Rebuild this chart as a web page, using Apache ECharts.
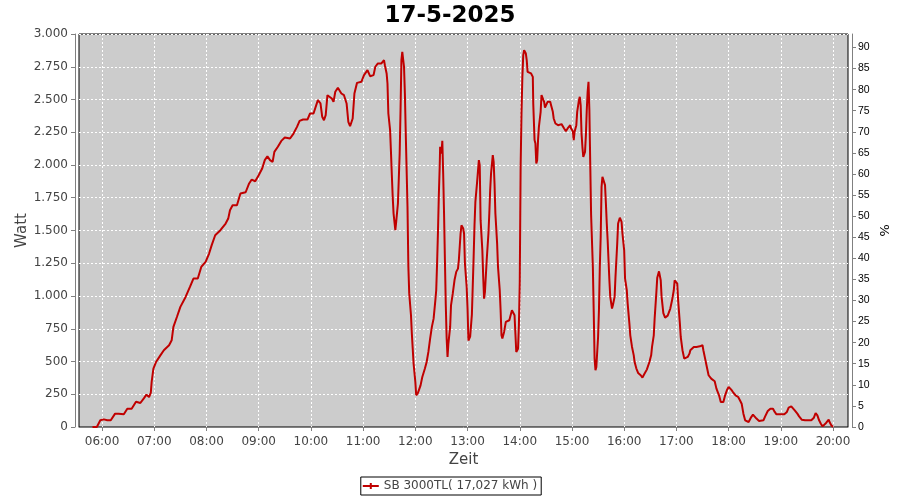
<!DOCTYPE html>
<html>
<head>
<meta charset="utf-8">
<script src="https://cdn.jsdelivr.net/npm/echarts@6/dist/echarts.min.js"></script>
<style>html,body{margin:0;padding:0;background:#fff}#c{width:900px;height:500px}</style>
</head>
<body>
<div id="c"></div>
<script>
// time in minutes since midnight
const times = [349,354,358,362,366,370,375,379,385,389,394,399,404,408,411,414,416,417,419,422,427,431,437,440,442,446,450,456,461,465,470,474,479,483,486,490,496,502,505,507,510,515,519,525,529,532,536,540,544,547,550,553,556,558,562,
566,570,576,580,584,587,591,596,599,603,605,608,611,613,615,617,619,621,624,626,628,631,635,638,641,643,645,648,650,653,658,661,665,668,672,674,677,681,684,685,687,688,689,691,692,693,694,695,697,698,700,701,702,703,704,705,706,707,708,709,711,712,713,715,716,717,718,720,721,723,726,728,731,733,735,737,739,741,743,744,745,746,747,748,748.5,750,751,752,753,754,755,756,757,758,760,761,763,765,767,769,770,771,772,773,775,776,777,779,780,781,783,785,787,788,789,
791,793,794,795,797,798,799,800,802,804,805,806,807,809,810,811,812,814,815,817,818,819,820,822,824,826,828,830,831,833,834,835,836,838,839,840,841,842,843,844,845,847,848,849,851,853,855,855.5,857,858,859,860,861,862,864,865,866,868,869,871,872,875,876,878,879,881,884,886,888,891,893,895,898,899,901,902,903,905,906,908,909,910,911,912,913,915,916,917,918,919,920,921,922,924,925,926,927,928,930,931,932,933,934,935,937,938,939,940,941,943,944,946,947,949,950,951,952,953,955,957,958,960,961,963,964,966,967,969,971,972,974,976,979,981,983,986,989,991,992,994,995,
997,998,1000,1002,1003,1005,1007,1010,1013,1015,1017,1018,1020,1021,1022,1024,1025,1027,1029,1031,1033,1035,1036,1040,1043,1047,1050,1051,1053,1055,1057,1060,1064,1066,1069,1071,1074,1076,1078,1080,1083,1085,1088,1091,1093,1095,1097,1099,1101,1103,1106,1108,1110,1112,1115,1117,1120,1122,1125,1128,1131,1133,1135,1138,1141,1144,1147,1149,1152,1154,1156,1159,1161,1164,1168,1172,1175,1178,1180,1182,1184,1186,1188,1190,1192,1195,1196,1198,1200];
const watt = [0,0,51,58,51,51,102,102,97,140,140,193,183,219,247,229,260,344,446,496,547,586,624,662,764,840,917,993,1069,1133,1133,1222,1260,1324,1388,1464,1502,1553,1591,1655,1693,1693,1782,1792,1859,1889,1876,1922,1973,2037,2067,2037,2024,2100,2139,
2184,2210,2202,2240,2291,2337,2347,2347,2393,2393,2406,2495,2470,2368,2342,2381,2533,2546,2508,2482,2559,2589,2546,2533,2470,2330,2296,2355,2546,2627,2635,2686,2724,2678,2686,2750,2775,2775,2801,2762,2699,2622,2393,2266,2100,1922,1757,1629,1502,1566,1706,1897,2088,2419,2801,2864,2851,2750,2546,2240,1680,1222,1018,853,713,598,484,344,242,260,318,382,446,496,573,675,764,827,967,1044,1248,1489,1769,1986,2139,2088,2184,1935,1629,1273,929,675,535,637,764,929,1018,1120,1184,1209,1273,1375,1477,1540,1515,1477,1248,1069,904,660,690,860,1300,1540,1719,
1871,2037,1999,1579,1349,1146,980,1031,1273,1477,1629,1808,1935,2075,2024,1859,1629,1400,1222,1044,891,700,675,726,802,789,815,827,891,904,853,713,573,598,777,1107,1986,2393,2673,2839,2877,2851,2801,2711,2711,2699,2673,2470,2190,2164,2011,2037,2190,2291,2406,2533,2526,2482,2439,2444,2482,2482,2457,2406,2355,2317,2304,2304,2312,2279,2258,2279,2304,2279,2258,2190,2253,2304,2406,2495,2521,2457,2240,2139,2062,2100,2228,2419,2559,2635,2419,2011,1617,1222,878,522,433,458,687,891,1222,1451,1833,1909,1922,1846,1706,1553,1426,1120,993,904,929,993,1146,1273,1400,1553,1598,1566,1477,1349,1133,1044,942,789,700,611,547,496,446,413,395,377,402,438,496,547,611,700,827,
1030,1140,1188,1120,993,870,835,850,904,967,1044,1120,1133,1095,967,789,687,586,522,514,535,560,586,611,611,616,624,586,522,458,395,369,349,293,242,191,191,242,280,306,285,267,242,229,204,178,102,51,38,38,76,94,102,64,46,46,51,81,122,140,140,115,97,97,97,97,115,148,158,148,127,102,81,56,51,51,51,71,107,89,51,25,5,5,31,56,38,13,0];
const hourTicks = [360,420,480,540,600,660,720,780,840,900,960,1020,1080,1140,1200];
const wattTicks = [0,250,500,750,1000,1250,1500,1750,2000,2250,2500,2750,3000];
const pctTicks = [0,5,10,15,20,25,30,35,40,45,50,55,60,65,70,75,80,85,90];
const titleText = '17-5-2025';
const seriesName = 'SB 3000TL( 17,027 kWh )';

const data = times.map((t, i) => [t, watt[i]]);
const pad2 = n => (n < 10 ? '0' : '') + n;
const fmtTime = v => pad2(Math.floor(v / 60)) + ':' + pad2(Math.round(v % 60));
const fmtWatt = v => v >= 1000 ? Math.floor(v / 1000) + '.' + String(v % 1000).padStart(3, '0') : String(v);

const chart = echarts.init(document.getElementById('c'), null, {renderer: 'canvas'});
chart.setOption({
  animation: false,
  backgroundColor: '#ffffff',
  title: {
    text: titleText, left: 'center', top: 0,
    textStyle: {fontFamily: 'DejaVu Sans', fontSize: 23, fontWeight: 'bold', color: '#000'}
  },
  legend: {
    left: 'center', top: 477,
    data: [{name: seriesName, icon: 'path://M0,2H7V0H9V2H16V4H9V6H7V4H0Z'}],
    itemWidth: 16, itemHeight: 6, itemGap: 4,
    borderColor: '#000', borderWidth: 1, borderRadius: 0, padding: [3, 4, 3, 2],
    textStyle: {fontFamily: 'DejaVu Sans', fontSize: 12, color: '#444'}
  },
  grid: {
    left: 79, right: 52, top: 34, bottom: 73,
    show: true, backgroundColor: '#cccccc', borderColor: '#000', borderWidth: 1,
    outerBoundsMode: 'none', containLabel: false
  },
  xAxis: {
    type: 'value', min: 333.5, max: 1217.2, offset: 4,
    name: 'Zeit', nameLocation: 'middle', nameGap: 22, nameMoveOverlap: false,
    nameTextStyle: {fontFamily: 'DejaVu Sans', fontSize: 15, color: '#444'},
    axisLine: {show: true, lineStyle: {color: '#808080', width: 1}},
    axisTick: {show: true, inside: false, length: 4, customValues: hourTicks, lineStyle: {color: '#808080'}},
    axisLabel: {customValues: hourTicks, formatter: fmtTime, margin: 5,
      fontFamily: 'DejaVu Sans', fontSize: 12, color: '#444'},
    splitLine: {show: true, lineStyle: {color: '#ffffff', type: [2, 2], width: 1}}
  },
  yAxis: [{
    type: 'value', min: 0, max: 3000, interval: 250, offset: 4, position: 'left',
    name: 'Watt', nameLocation: 'middle', nameGap: 45, nameRotate: 90, nameMoveOverlap: false,
    nameTextStyle: {fontFamily: 'DejaVu Sans', fontSize: 15, color: '#444'},
    axisLine: {show: true, lineStyle: {color: '#808080', width: 1}},
    axisTick: {show: true, inside: false, length: 4, lineStyle: {color: '#808080'}},
    axisLabel: {formatter: fmtWatt, margin: 7, fontFamily: 'DejaVu Sans', fontSize: 12, color: '#444'},
    splitLine: {show: true, lineStyle: {color: '#ffffff', type: [2, 2], width: 1}}
  }, {
    type: 'value', min: 0, max: 93.2, offset: 4, position: 'right',
    name: '%', nameLocation: 'middle', nameGap: 25, nameRotate: -90, nameMoveOverlap: false,
    nameTextStyle: {fontFamily: 'DejaVu Sans', fontSize: 13, color: '#000'},
    axisLine: {show: true, lineStyle: {color: '#808080', width: 1}},
    axisTick: {show: true, inside: false, length: 4, customValues: pctTicks, lineStyle: {color: '#808080'}},
    axisLabel: {customValues: pctTicks, margin: 6, fontFamily: 'Liberation Sans', fontSize: 10.5, color: '#000'},
    splitLine: {show: false}
  }],
  series: [{
    name: seriesName, type: 'line', yAxisIndex: 0, data: data,
    showSymbol: false, color: '#c00000',
    lineStyle: {color: '#c00000', width: 2}
  }]
});
</script>
</body>
</html>
